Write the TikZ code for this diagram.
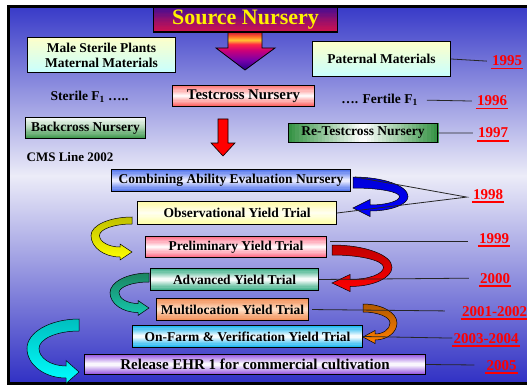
\documentclass[tikz,border=0pt]{standalone}
\usepackage{fontspec}
\setmainfont{Liberation Serif}
\usetikzlibrary{calc}
\definecolor{bgtop}{RGB}{56,58,200}
\definecolor{bgmid}{RGB}{236,236,248}
\definecolor{bgbot}{RGB}{48,48,196}
\definecolor{srctop}{RGB}{58,12,152}
\definecolor{srcbot}{RGB}{214,18,76}
\definecolor{sa0}{RGB}{204,20,60}
\definecolor{sa1}{RGB}{255,100,40}
\definecolor{sa2}{RGB}{255,200,50}
\definecolor{sa3}{RGB}{255,40,70}
\definecolor{sa4}{RGB}{204,0,120}
\definecolor{sa5}{RGB}{120,0,170}
\definecolor{sa6}{RGB}{34,0,136}
\definecolor{lyel}{RGB}{255,255,200}
\definecolor{lcyan}{RGB}{200,255,255}
\definecolor{grn}{RGB}{50,145,65}
\definecolor{bluebox}{RGB}{60,100,235}
\definecolor{obsyel}{RGB}{255,255,160}
\definecolor{pinkbox}{RGB}{255,90,120}
\definecolor{advgrn}{RGB}{35,165,120}
\definecolor{orgbox}{RGB}{240,135,75}
\definecolor{peach}{RGB}{255,225,200}
\definecolor{purbox}{RGB}{140,70,220}
\pgfdeclarelayer{back}
\pgfdeclarelayer{bg}
\pgfsetlayers{back,bg,main}
\pgfdeclareverticalshading{srcarrow}{100bp}{color(0bp)=(sa6); color(25bp)=(sa6); color(38bp)=(sa5); color(51bp)=(sa4); color(59bp)=(sa3); color(64.5bp)=(sa2); color(69.7bp)=(sa1); color(75bp)=(sa0); color(100bp)=(sa0)}
\tikzset{
  bx/.style={draw=black, line width=1.2pt, inner sep=0pt, font=\fontsize{13.5}{15}\selectfont\bfseries, align=center},
  yr/.style={text=red, font=\fontsize{15}{16}\selectfont\bfseries, inner sep=1pt, anchor=base},
  lbl/.style={font=\fontsize{13.5}{15}\selectfont\bfseries, inner sep=1pt},
  conn/.style={draw=black!85, line width=0.8pt},
  rib/.style={draw=black, line width=0.5pt}
}
% vertical gradient fill of a node, drawn as stripes: name, top, middle, bottom
\newcommand\gradbox[4]{%
  \colorlet{gbT}{#2}\colorlet{gbM}{#3}\colorlet{gbB}{#4}%
  \begin{pgfonlayer}{bg}
  \foreach \i in {0,...,19}{%
    \ifnum\i<10 \pgfmathtruncatemacro\pp{10*\i+5}\edef\gbcol{gbM!\pp!gbT}%
    \else \pgfmathtruncatemacro\pp{10*(\i-10)+5}\edef\gbcol{gbB!\pp!gbM}\fi
    \fill[fill=\gbcol] ($(#1.north west)!{\i/20}!(#1.south west)$) rectangle ($(#1.north east)!{(\i+1.15)/20}!(#1.south east)$);
  }%
  \end{pgfonlayer}}
% horizontal version: name, left, middle, right
\newcommand\hgradbox[4]{%
  \colorlet{gbT}{#2}\colorlet{gbM}{#3}\colorlet{gbB}{#4}%
  \begin{pgfonlayer}{bg}
  \foreach \i in {0,...,39}{%
    \ifnum\i<20 \pgfmathtruncatemacro\pp{5*\i+2}\edef\gbcol{gbM!\pp!gbT}%
    \else \pgfmathtruncatemacro\pp{5*(\i-20)+2}\edef\gbcol{gbB!\pp!gbM}\fi
    \fill[fill=\gbcol] ($(#1.north west)!{\i/40}!(#1.north east)$) rectangle ($(#1.south west)!{(\i+1.15)/40}!(#1.south east)$);
  }%
  \end{pgfonlayer}}
\newcommand\myribbon[7]{%
  \pgfmathsetmacro\qW{#1}\pgfmathsetmacro\qH{#2}\pgfmathsetmacro\qa{#3}%
  \pgfmathsetmacro\qb{#4}\pgfmathsetmacro\ql{#5}\pgfmathsetmacro\qh{#6}%
  \pgfmathsetmacro\qc{(\qa+\qH-\qb/2)/2}%
  \pgfmathsetmacro\qm{(\qa+\qb)/2}%
  \path[#7] (0,0) .. controls ({0.552*\qW},0) and (\qW,{\qc*0.448}) .. (\qW,\qc)
    .. controls (\qW,{\qc+0.552*(\qH+\qb/2-\qc)}) and ({\ql+0.552*(\qW-\ql)},{\qH+\qb/2}) .. (\ql,{\qH+\qb/2})
    -- (\ql,{\qH+\qh}) -- (0,\qH) -- (\ql,{\qH-\qh}) -- (\ql,{\qH-\qb/2})
    .. controls ({\ql+0.552*(\qW-\qm-\ql)},{\qH-\qb/2}) and ({\qW-\qm},{\qc+0.552*(\qH-\qb/2-\qc)}) .. ({\qW-\qm},\qc)
    .. controls ({\qW-\qm},{\qc-0.552*(\qc-\qa)}) and ({0.552*(\qW-\qm)},\qa) .. (0,\qa) -- cycle;}
\begin{document}
\begin{tikzpicture}[x=1pt,y=-1pt]
\useasboundingbox (0,0) rectangle (527,385);
\clip (0,0) rectangle (527,385);
\begin{pgfonlayer}{back}
\fill[white] (0,0) rectangle (527,385);
\shade[top color=bgtop, bottom color=bgmid] (8.5,6.5) rectangle (535,176);
\shade[top color=bgmid, bottom color=bgbot] (8.5,175.5) rectangle (535,383.5);
\draw[line width=3pt] (8.5,6.5) rectangle (535,383.5);
\end{pgfonlayer}

% big arrow from source nursery
\path[shade, shading=srcarrow, draw=black, line width=0.8pt]
  (228,32) -- (262,32) -- (262,48) -- (275,48) -- (245,70) -- (216,48) -- (228,48) -- cycle;
\node[bx, minimum width=184, minimum height=25, text=yellow, font=\fontsize{22}{24}\selectfont\bfseries] (source) at (245.5,19.5) {Source Nursery};
\gradbox{source}{srctop}{srcbot!55!srctop}{srcbot}

% boxes
\node[bx, minimum width=148, minimum height=35] (male) at (101.5,55) {Male Sterile Plants\\Maternal Materials};
\gradbox{male}{lyel}{lyel!50!lcyan}{lcyan}
\node[bx, minimum width=138, minimum height=35] (paternal) at (381.5,59) {Paternal Materials};
\gradbox{paternal}{lyel}{lyel!50!lcyan}{lcyan}
\node[bx, minimum width=142, minimum height=21, font=\fontsize{14.8}{16}\selectfont\bfseries] (testcross) at (243.5,96) {Testcross Nursery};
\gradbox{testcross}{red!60}{white}{red!70}
\node[bx, minimum width=120, minimum height=21] (backcross) at (85.5,128) {Backcross Nursery};
\gradbox{backcross}{white}{grn!40}{grn}
\node[bx, minimum width=149, minimum height=19] (retest) at (363,133) {Re-Testcross Nursery};
\hgradbox{retest}{grn}{white}{grn}
\node[bx, minimum width=239, minimum height=22] (combining) at (231,180.5) {Combining Ability Evaluation Nursery};
\gradbox{combining}{bluebox}{blue!6}{bluebox}
\node[bx, minimum width=199, minimum height=23] (observ) at (237,213) {Observational Yield Trial};
\gradbox{observ}{obsyel}{yellow!5}{obsyel}
\node[bx, minimum width=181, minimum height=21] (prelim) at (236,247) {Preliminary Yield Trial};
\gradbox{prelim}{pinkbox}{white}{pinkbox}
\node[bx, minimum width=168, minimum height=22] (advanced) at (234.5,279.5) {Advanced Yield Trial};
\gradbox{advanced}{advgrn}{white}{advgrn}
\node[bx, minimum width=152, minimum height=22] (multiloc) at (232.5,309.5) {Multilocation Yield Trial};
\gradbox{multiloc}{orgbox}{peach}{orgbox}
\node[bx, minimum width=230, minimum height=22] (onfarm) at (247.5,336.5) {On-Farm \& Verification Yield Trial};
\gradbox{onfarm}{cyan}{white}{cyan}
\node[bx, minimum width=341, minimum height=20, font=\fontsize{15}{16}\selectfont\bfseries] (release) at (255,364.5) {Release EHR 1 for commercial cultivation};
\gradbox{release}{purbox}{white}{purbox}

% plain labels
\node[lbl] (sterile) at (89.5,97) {Sterile F\textsubscript{1} …..};
\node[lbl] (fertile) at (379.5,100) {…. Fertile F\textsubscript{1}};
\node[lbl, font=\fontsize{13}{15}\selectfont\bfseries] (cms) at (70,157) {CMS Line 2002};

% red down arrow
\path[draw=black, line width=0.6pt, fill=red]
  (218,119) -- (228,119) -- (228,143) -- (235,143) -- (223,156) -- (211,143) -- (218,143) -- cycle;

% ribbon arrows
\begin{scope}[shift={(353,177)}]
  \myribbon{55}{31}{11}{6}{17}{8.5}{rib, top color=blue!85!black, bottom color=blue}
\end{scope}
\begin{scope}[shift={(132,217)}, xscale=-1]
  \myribbon{41}{35}{7}{10}{12}{8}{rib, top color=yellow!75!black, bottom color=yellow}
\end{scope}
\begin{scope}[shift={(332,245)}]
  \myribbon{60}{38}{10}{7}{18}{8.5}{rib, top color=red!75!black, bottom color=red}
\end{scope}
\begin{scope}[shift={(149,273)}, xscale=-1]
  \myribbon{39}{35}{9}{9}{11}{7.5}{rib, top color=advgrn!80!black, bottom color=advgrn!60!cyan}
\end{scope}
\begin{scope}[shift={(363,304)}]
  \myribbon{34}{33}{8}{6}{12}{6.5}{rib, top color=orange!70!black, bottom color=orange}
\end{scope}
\begin{scope}[shift={(79,319)}, xscale=-1]
  \myribbon{52}{53}{12}{12}{13}{11.5}{rib, top color=cyan!75!black, bottom color=cyan}
\end{scope}

% years
\node[yr] (y1995) at (507,66) {1995};
\node[yr] (y1996) at (492,106) {1996};
\node[yr] (y1997) at (493,138) {1997};
\node[yr] (y1998) at (488,199) {1998};
\node[yr] (y1999) at (494,243) {1999};
\node[yr] (y2000) at (495,283) {2000};
\node[yr] (y2001) at (494.5,316) {2001-2002};
\node[yr] (y2003) at (486,343) {2003-2004};
\node[yr] (y2005) at (501.5,370) {2005};
\foreach \n in {y1995,y1996,y1997,y1998,y1999,y2000,y2001,y2003,y2005}
  \draw[red, line width=1.8pt] ([yshift=-2.6pt]\n.base west) -- ([yshift=-2.6pt]\n.base east);

% connectors
\draw[conn] (paternal.east) -- ([xshift=-4pt]y1995.west);
\draw[conn, shorten <=8pt, shorten >=4pt] (fertile.east) -- (y1996.west);
\draw[conn, shorten >=4pt] (retest.east) -- (y1997.west);
\coordinate (p1998) at ($(y1998.west)+(-5,3)$);
\draw[conn] ($(combining.east)+(4,-3.5)$) -- (p1998) -- (observ.east);
\draw[conn] ($(prelim.east)+(3,-6)$) coordinate (a1999) -- (a1999 -| {$(y1999.west)+(-10,0)$});
\draw[conn, shorten >=10pt] (advanced.east) -- (y2000.west);
\draw[conn, shorten <=3pt, shorten >=16pt] (multiloc.east) -- (y2001.west);
\draw[conn] (onfarm.east) -- (y2003.west);
\draw[conn, shorten >=11pt] (release.east) -- (y2005.west);
\end{tikzpicture}
\end{document}
